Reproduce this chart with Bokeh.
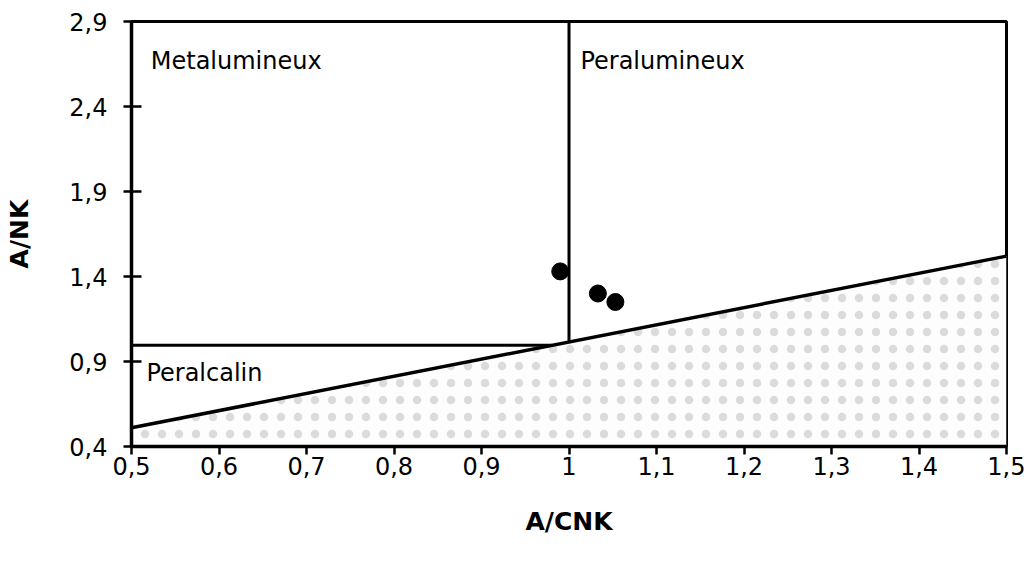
from bokeh.plotting import figure
from bokeh.models import Range1d, FixedTicker, CustomJSTickFormatter, ColumnDataSource, Label
from bokeh.embed import file_html
from bokeh.resources import INLINE

# ---- data ----
x_ticks = [0.5, 0.6, 0.7, 0.8, 0.9, 1.0, 1.1, 1.2, 1.3, 1.4, 1.5]
y_ticks = [0.4, 0.9, 1.4, 1.9, 2.4, 2.9]

sample_acnk = [0.99, 1.033, 1.053]
sample_ank = [1.43, 1.30, 1.25]

# boundary lines
diag_x = [0.5, 1.5]
diag_y = [0.51, 1.52]
horiz_x = [0.5, 0.98]
horiz_y = [0.995, 0.995]
vert_x = [1.0, 1.0]
vert_y = [1.02, 2.9]

# shaded field below the diagonal
shade_x = [0.5, 1.5, 1.5, 0.5]
shade_y = [0.51, 1.52, 0.4, 0.4]

field_names = ["Metalumineux", "Peralumineux", "Peralcalin"]
field_x = [0.522, 1.013, 0.517]
field_y = [2.665, 2.67, 0.83]

FONT = "DejaVu Sans"

p = figure(width=1025, height=561, output_backend="svg", toolbar_location=None,
           x_range=Range1d(0.5, 1.5), y_range=Range1d(0.4, 2.9),
           min_border_left=131, min_border_right=19, min_border_top=21, min_border_bottom=115)

p.xgrid.visible = False
p.ygrid.visible = False
p.outline_line_color = "black"
p.outline_line_width = 3
p.background_fill_color = "white"
p.border_fill_color = "white"

p.patch(shade_x, shade_y, fill_color="#fdfdfd", line_color=None,
        hatch_pattern=".", hatch_color="#9a9a9a", hatch_scale=17, hatch_alpha=0.35, hatch_weight=0.5)

p.line(diag_x, diag_y, line_color="black", line_width=3.5)
p.line(horiz_x, horiz_y, line_color="black", line_width=3)
p.line(vert_x, vert_y, line_color="black", line_width=3)

src = ColumnDataSource(dict(x=sample_acnk, y=sample_ank))
p.scatter("x", "y", source=src, size=17, fill_color="black", line_color="black")

for name, lx, ly in zip(field_names, field_x, field_y):
    p.add_layout(Label(x=lx, y=ly, text=name, text_font=FONT, text_font_size="24px",
                       text_color="black", text_baseline="middle", text_align="left"))

fmt = CustomJSTickFormatter(code="""
var s = tick.toFixed(1);
if (s.endsWith('.0')) { s = s.slice(0, -2); }
return s.replace('.', ',');
""")

xa = p.xaxis[0]
xa.ticker = FixedTicker(ticks=x_ticks)
xa.formatter = fmt
xa.axis_label = "A/CNK"
xa.axis_line_width = 3.5
xa.major_tick_in = 0
xa.major_tick_out = 8
xa.major_tick_line_width = 2.5
xa.minor_tick_line_color = None
xa.major_label_text_font = FONT
xa.major_label_text_font_size = "24px"
xa.major_label_text_color = "black"
xa.major_label_standoff = 2
xa.axis_label_text_font = FONT
xa.axis_label_text_font_size = "25px"
xa.axis_label_text_font_style = "bold"
xa.axis_label_text_color = "black"
xa.axis_label_standoff = 29

ya = p.yaxis[0]
ya.ticker = FixedTicker(ticks=y_ticks)
ya.formatter = fmt
ya.axis_label = "A/NK"
ya.axis_line_width = 3.5
ya.major_tick_in = 10
ya.major_tick_out = 8
ya.major_tick_line_width = 2.5
ya.minor_tick_line_color = None
ya.major_label_text_font = FONT
ya.major_label_text_font_size = "24px"
ya.major_label_text_color = "black"
ya.major_label_standoff = 16
ya.axis_label_text_font = FONT
ya.axis_label_text_font_size = "25px"
ya.axis_label_text_font_style = "bold"
ya.axis_label_text_color = "black"
ya.axis_label_standoff = 32

open("out.html", "w").write(file_html(p, INLINE))
